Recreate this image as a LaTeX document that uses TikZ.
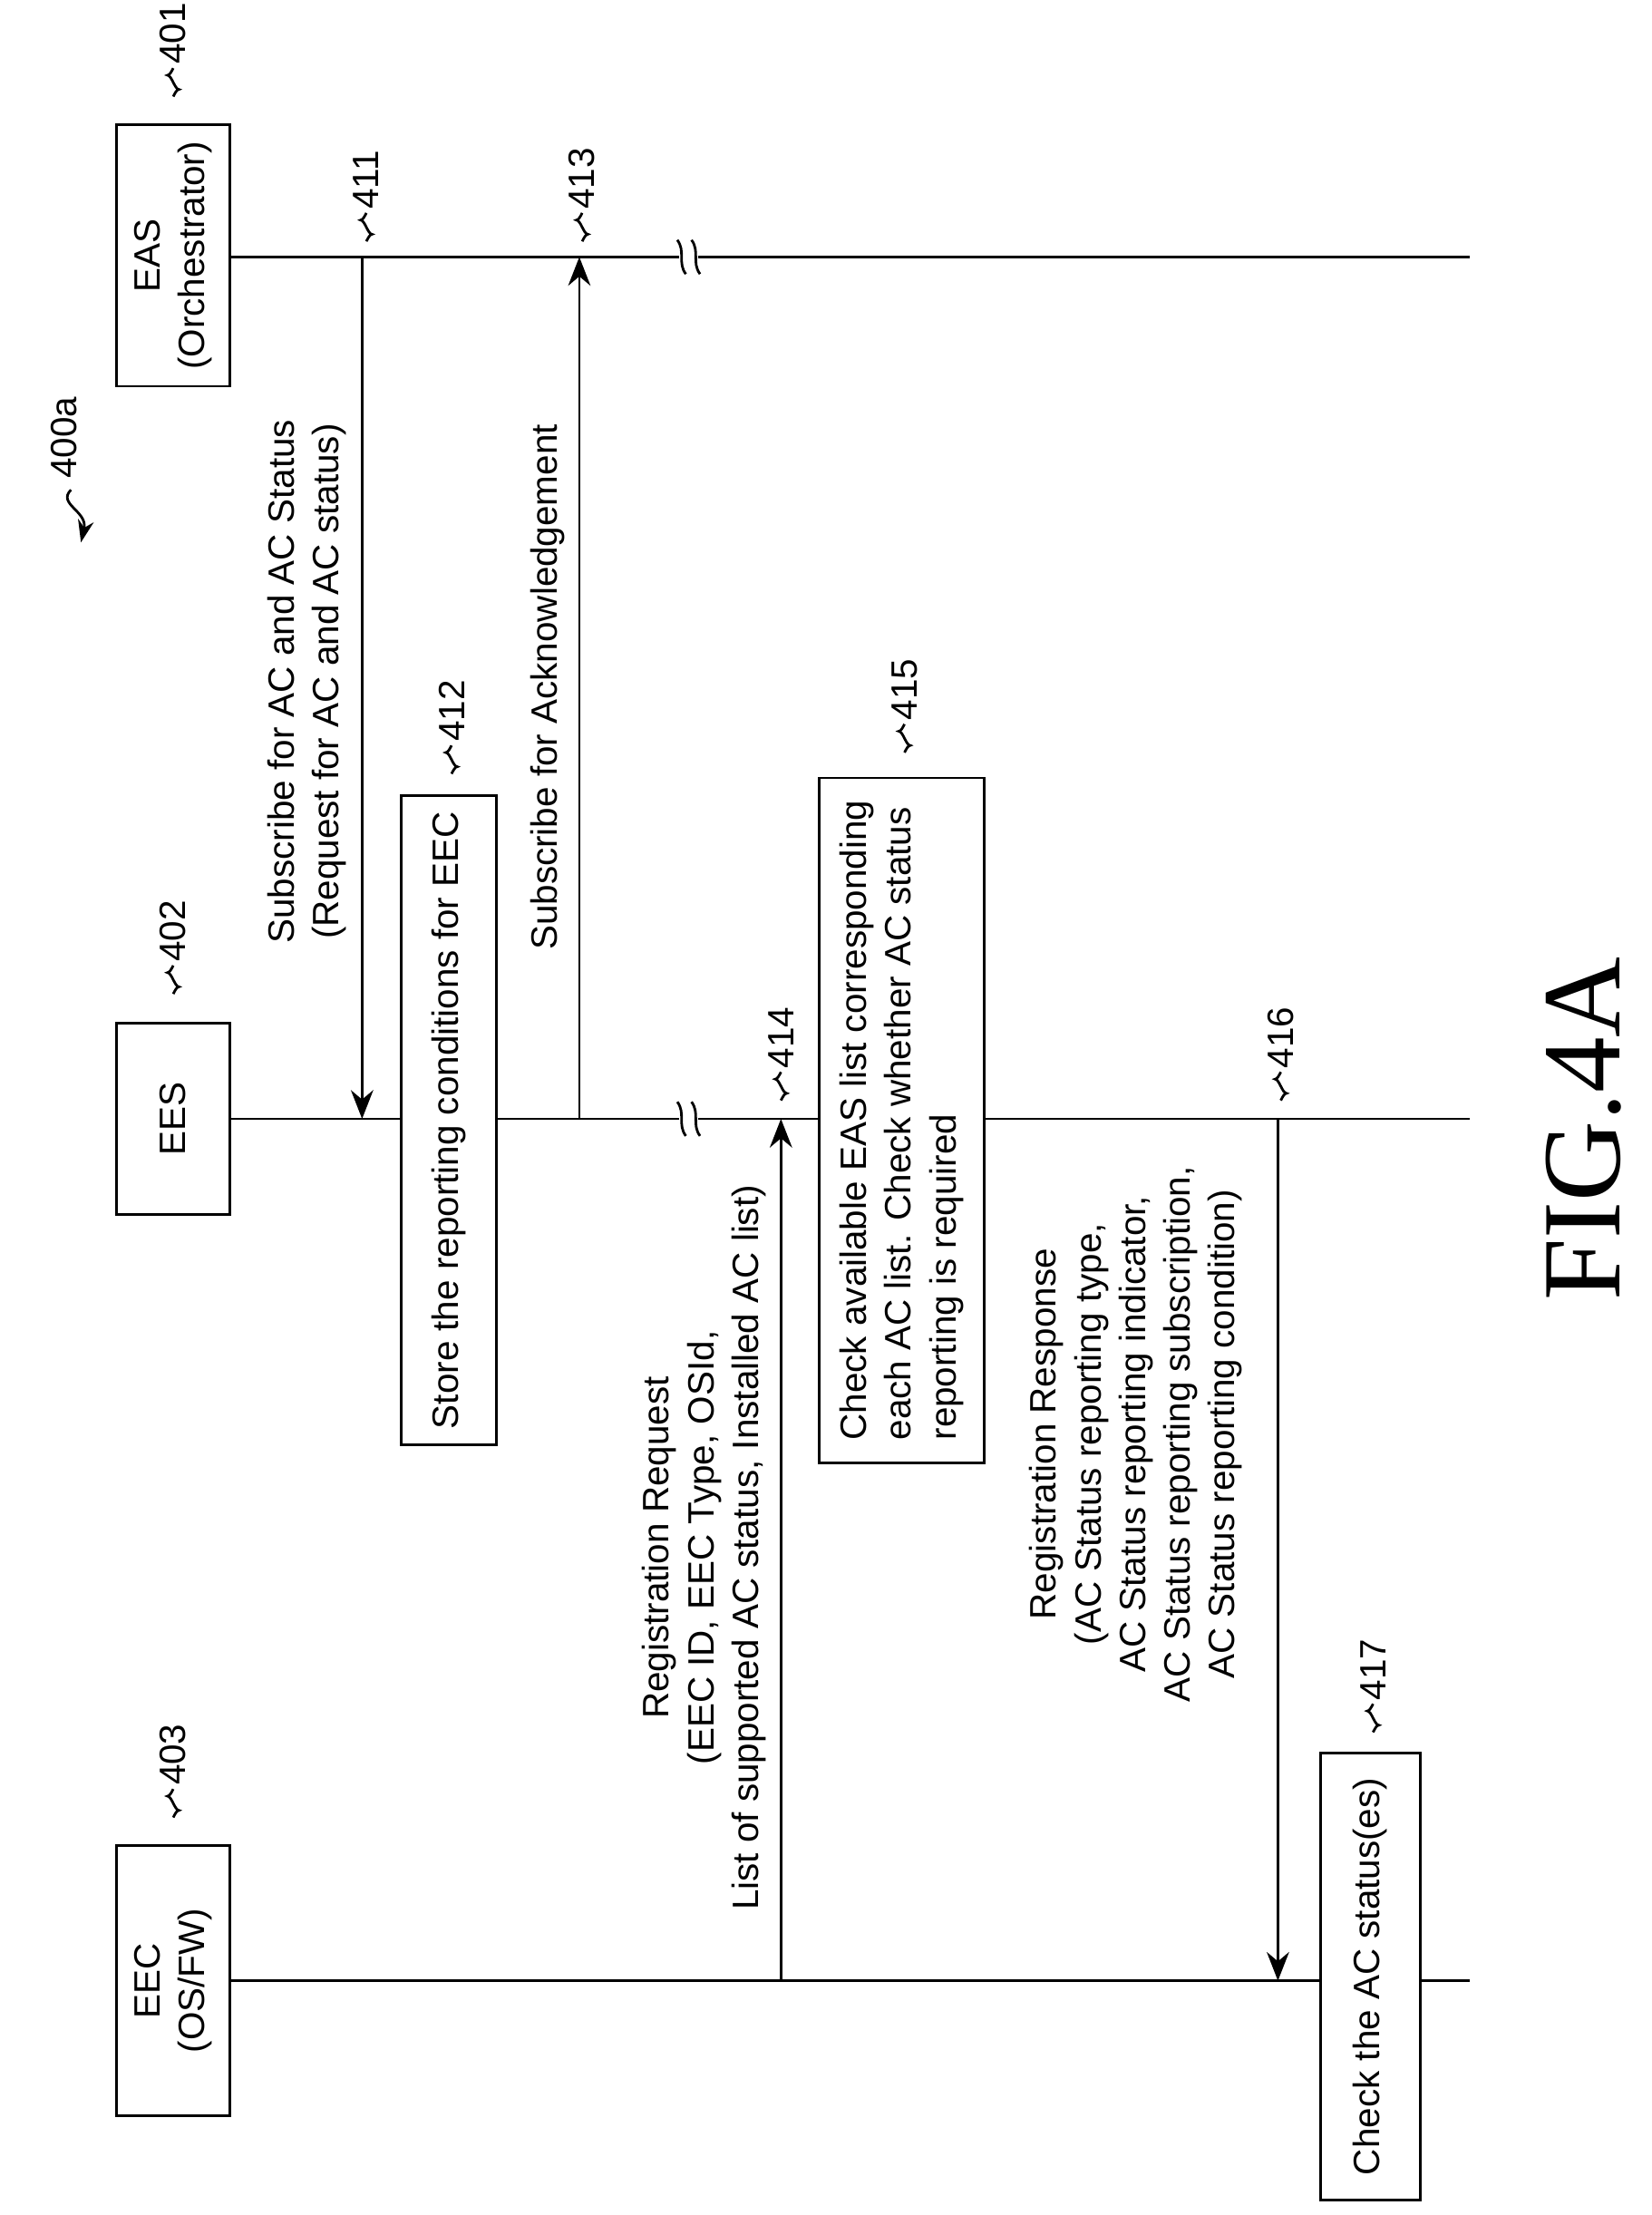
\documentclass[tikz,border=0pt]{standalone}
\usepackage{fontspec}
\setmainfont{Liberation Sans}
\newfontfamily\figfont{Liberation Serif}
\usetikzlibrary{arrows.meta,positioning}

\tikzset{
  entity/.style={draw,thick,fill=white,rotate=90,align=center,inner sep=0pt},
  action/.style={draw,thick,fill=white,rotate=90,align=left,inner sep=5pt},
  msg/.style={rotate=90,align=center},
  flow/.style={thick,-{Stealth[length=9pt,width=7pt]}},
  ref/.style={rotate=90,anchor=west,inner sep=1pt},
}
% squiggle leader with reference numeral
\newcommand{\refmark}[3]{%
  \draw[thick] (#1,#2) sin (#1+4,#2-5) cos (#1,#2-10) sin (#1-4,#2-15) cos (#1,#2-20);
  \node[ref] at (#1,#2-20) {#3};}
\newcommand{\brk}[2]{%
  \fill[white] (#1-2,#2-6) rectangle (#1+12,#2+6);
  \draw[thick] (#1-3,#2-12) .. controls (#1+3,#2-4) and (#1-3,#2+4) .. (#1+3,#2+12);
  \draw[thick] (#1+7,#2-12) .. controls (#1+13,#2-4) and (#1+7,#2+4) .. (#1+13,#2+12);}

\begin{document}
\begin{tikzpicture}[x=0.01566cm,y=-0.01566cm,font=\fontsize{11.5}{14}\selectfont]
\useasboundingbox (0,0) rectangle (1163,1560);

% lifelines
\coordinate (easL) at (162,181);  \coordinate (easR) at (1035,181);
\coordinate (eesL) at (162,788);  \coordinate (eesR) at (1035,788);
\coordinate (eecL) at (162,1395); \coordinate (eecR) at (1035,1395);
\draw[thick] (easL) -- (easR);
\draw[thick] (eesL) -- (eesR);
\draw[thick] (eecL) -- (eecR);

% entities
\node[entity,minimum width=2.88cm,minimum height=1.25cm] (eas) at (122,180) {EAS\\(Orchestrator)};
\node[entity,minimum width=2.11cm,minimum height=1.25cm] (ees) at (122,788) {EES};
\node[entity,minimum width=2.98cm,minimum height=1.25cm] (eec) at (122,1395) {EEC\\(OS/FW)};
\refmark{122}{68}{401}
\refmark{122}{700}{402}
\refmark{122}{1280}{403}

% figure reference
\node[rotate=90,anchor=west] (fig) at (45,345) {400a};
\draw[thick,-{Stealth[length=7pt,width=5pt]}] (50,345) .. controls (40,355) and (62,360) .. (57,382);

% 411
\coordinate (a411s) at (255,181); \coordinate (a411e) at (255,788);
\draw[flow] (a411s) -- (a411e);
\node[msg] (m411) at (216,480) {Subscribe for AC and AC Status\\(Request for AC and AC status)};
\refmark{258}{170}{411}

% 412
\node[action,minimum width=7.1cm,minimum height=1.05cm] (s412) at (316,789) {Store the reporting conditions for EEC};
\refmark{318}{545}{412}

% 413
\coordinate (a413s) at (408,788); \coordinate (a413e) at (408,181);
\draw[flow] (a413s) -- (a413e);
\node[msg] (m413) at (386,484) {Subscribe for Acknowledgement};
\refmark{410}{170}{413}

% breaks
\brk{480}{181}
\brk{480}{788}

% 414
\coordinate (a414s) at (550,1395); \coordinate (a414e) at (550,788);
\draw[flow] (a414s) -- (a414e);
\node[msg] (m414) at (496,1090) {Registration Request\\(EEC ID, EEC Type, OSId,\\List of supported AC status, Installed AC list)};
\refmark{550}{775}{414}

% 415
\node[action,minimum width=7.55cm,minimum height=1.82cm] (s415) at (635,789) {Check available EAS list corresponding\\each AC list. Check whether AC status\\reporting is required};
\refmark{637}{530}{415}

% 416
\coordinate (a416s) at (900,788); \coordinate (a416e) at (900,1395);
\draw[flow] (a416s) -- (a416e);
\node[msg] (m416) at (800,1010) {Registration Response\\(AC Status reporting type,\\AC Status reporting indicator,\\AC Status reporting subscription,\\AC Status reporting condition)};
\refmark{902}{775}{416}

% 417
\node[action,minimum width=4.93cm,minimum height=1.1cm] (s417) at (965,1392) {Check the AC status(es)};
\refmark{967}{1220}{417}

\node[rotate=90,font=\figfont\fontsize{35}{35}\selectfont] (figlabel) at (1115,795) {FIG.4A};
\end{tikzpicture}
\end{document}
